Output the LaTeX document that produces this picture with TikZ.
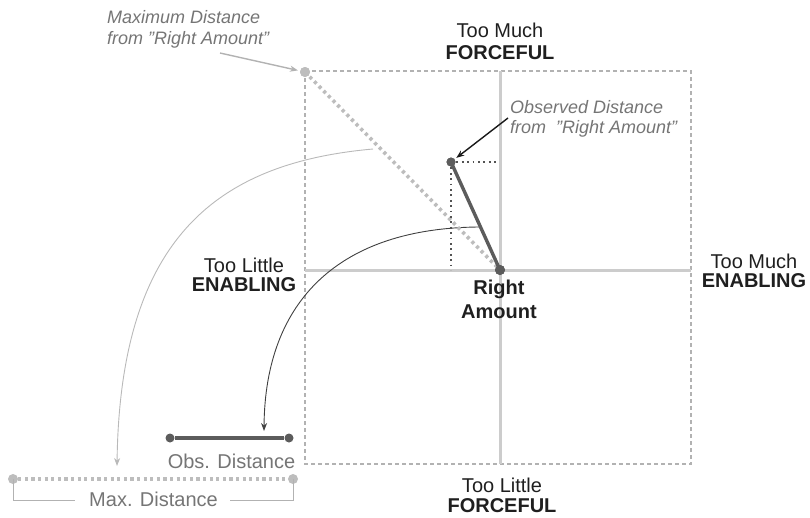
\documentclass[tikz,border=0pt]{standalone}
\usepackage{fontspec}
\setmainfont{Liberation Sans}
\usetikzlibrary{arrows.meta}
\definecolor{axisgray}{gray}{0.80}
\definecolor{boxgray}{gray}{0.70}
\definecolor{maxgray}{gray}{0.74}
\definecolor{obsgray}{gray}{0.36}
\definecolor{txtgray}{gray}{0.46}
\definecolor{lblblack}{gray}{0.12}
\newcommand\sq{\symbol{34}}
\newcommand\twolinesC[3]{\vtop{\baselineskip=#1\relax\halign{\hfil##\hfil\cr#2\cr#3\cr}}}
\newcommand\twolinesL[3]{\vtop{\baselineskip=#1\relax\halign{##\hfil\cr#2\cr#3\cr}}}
\begin{document}
\begin{tikzpicture}[x=1pt,y=-1pt,
  dotnode/.style={circle,inner sep=0pt,minimum size=#1,draw=none},
  boxline/.style={draw=boxgray,line width=1.1pt,dash pattern=on 4pt off 3pt},
  axisline/.style={draw=axisgray,line width=3pt},
  maxline/.style={draw=maxgray,line width=3.6pt,dash pattern=on 3.2pt off 3.4pt},
  obsline/.style={draw=obsgray,line width=3.4pt},
  projline/.style={draw=obsgray!90!black,line width=1.8pt,dash pattern=on 1.8pt off 3.6pt},
  lightcurve/.style={draw=gray!55,line width=0.9pt,-{Stealth[length=8pt,width=6pt]}},
  darkcurve/.style={draw=black!75,line width=0.9pt,-{Stealth[length=8pt,width=6pt]}},
  bigtxt/.style={inner sep=0pt,text=lblblack,font=\fontsize{20}{24}\selectfont},
  ittxt/.style={inner sep=0pt,text=txtgray,font=\fontsize{18}{21}\selectfont\itshape},
  graytxt/.style={inner sep=0pt,text=txtgray,font=\fontsize{20}{24}\selectfont}]
\useasboundingbox (0,0) rectangle (810,517);

% frame and axes
\draw[boxline] (305,71) rectangle (691,464);
\draw[axisline] (305,270) -- (691,270);
\draw[axisline] (500,71) -- (500,464);

% points
\node[dotnode=10pt,fill=maxgray] (maxdot) at (305,72) {};
\node[dotnode=10pt,fill=obsgray] (ra) at (500,270) {};
\node[dotnode=9pt,fill=obsgray] (obs) at (451,162) {};
\coordinate (obsH) at (497,162);
\coordinate (obsV) at (451,270);

% curves
\coordinate (c1s) at (373,149);
\coordinate (c1e) at (117,466);
\draw[lightcurve] (c1s) .. controls (215,163) and (120,240) .. (c1e);
\coordinate (c2s) at (479,227);
\coordinate (c2e) at (264,431);
\draw[darkcurve] (c2s) .. controls (340,228) and (265,300) .. (c2e);

% distance lines
\draw[maxline] (maxdot.center) -- (ra.center);
\draw[projline] (obs.center) -- (obsH);
\draw[projline] (obs.center) -- (obsV);
\draw[obsline] (obs.center) -- (ra.center);
\node[dotnode=10pt,fill=maxgray] at (maxdot) {};
\node[dotnode=10pt,fill=obsgray] at (ra) {};
\node[dotnode=9pt,fill=obsgray] at (obs) {};

% pointer arrows
\coordinate (maxA) at (220,53);
\draw[draw=gray!60,line width=1.4pt,-{Stealth[length=8pt,width=6pt]},shorten >=2pt] (maxA) -- (maxdot);
\coordinate (obsA) at (508,118);
\draw[draw=black!90,line width=1.4pt,-{Stealth[length=8pt,width=6pt]},shorten >=2pt] (obsA) -- (obs);

% bars
\node[dotnode=9pt,fill=obsgray] (obL) at (170,438) {};
\node[dotnode=9pt,fill=obsgray] (obR) at (289,438) {};
\draw[obsline] (obL) -- (obR);
\node[dotnode=10pt,fill=maxgray] (mxL) at (13,479) {};
\node[dotnode=10pt,fill=maxgray] (mxR) at (293,479) {};
\draw[maxline] (mxL) -- (mxR);
\draw[draw=boxgray,line width=1pt] (mxL.center) -- (13,500) -- (75,500);
\draw[draw=boxgray,line width=1pt] (mxR.center) -- (293,500) -- (230,500);

% texts
\node[graytxt,anchor=base] (obstxt) at (231.5,468) {Obs. Distance};
\node[graytxt,anchor=base] (maxtxt) at (153.5,506) {Max. Distance};
\node[ittxt,anchor=base west] (maxlbl) at (107,23) {\twolinesL{21pt}{Maximum Distance}{from \sq Right Amount\sq}};
\node[ittxt,anchor=base west] (obslbl) at (510,113) {\twolinesL{20pt}{Observed Distance}{from\hspace{10pt}\sq Right Amount\sq}};
\node[bigtxt,anchor=base] (tmf) at (500,37) {\twolinesC{22.5pt}{Too Much}{\textbf{FORCEFUL}}};
\node[bigtxt,anchor=base] (tlf) at (502,492) {\twolinesC{20pt}{Too Little}{\textbf{FORCEFUL}}};
\node[bigtxt,anchor=base] (tle) at (244,272) {\twolinesC{19pt}{Too Little}{\textbf{ENABLING}}};
\node[bigtxt,anchor=base] (tme) at (754,268) {\twolinesC{19pt}{Too Much}{\textbf{ENABLING}}};
\node[bigtxt,anchor=base] (ram) at (499,294) {\twolinesC{24pt}{\textbf{Right}}{\textbf{Amount}}};
\end{tikzpicture}
\end{document}
